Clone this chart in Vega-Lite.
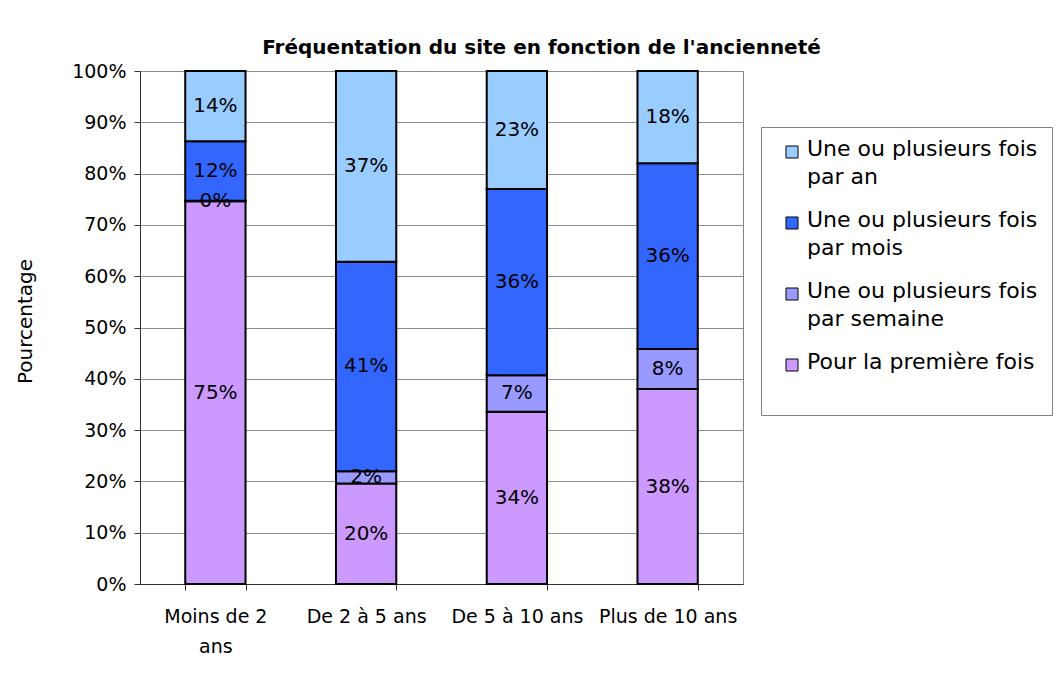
{
  "$schema": "https://vega.github.io/schema/vega-lite/v6.json",
  "width": 603,
  "height": 513,
  "autosize": {"type": "none"},
  "padding": {"left": 140, "top": 71, "right": 317, "bottom": 100},
  "background": "white",
  "config": {
    "font": "DejaVu Sans",
    "view": {"stroke": "#808080", "strokeWidth": 1}
  },
  "title": {
    "text": "Fréquentation du site en fonction de l'ancienneté",
    "fontSize": 20,
    "fontWeight": "bold",
    "color": "black",
    "anchor": "middle",
    "frame": "group",
    "dx": 100,
    "baseline": "alphabetic",
    "offset": -12
  },
  "data": {
    "values": [
      {"anciennete": "Moins de 2 ans", "frequence": "Pour la première fois", "ordre": 1, "part": 0.746},
      {"anciennete": "Moins de 2 ans", "frequence": "Une ou plusieurs fois par semaine", "ordre": 2, "part": 0.001},
      {"anciennete": "Moins de 2 ans", "frequence": "Une ou plusieurs fois par mois", "ordre": 3, "part": 0.116},
      {"anciennete": "Moins de 2 ans", "frequence": "Une ou plusieurs fois par an", "ordre": 4, "part": 0.137},
      {"anciennete": "De 2 à 5 ans", "frequence": "Pour la première fois", "ordre": 1, "part": 0.196},
      {"anciennete": "De 2 à 5 ans", "frequence": "Une ou plusieurs fois par semaine", "ordre": 2, "part": 0.024},
      {"anciennete": "De 2 à 5 ans", "frequence": "Une ou plusieurs fois par mois", "ordre": 3, "part": 0.408},
      {"anciennete": "De 2 à 5 ans", "frequence": "Une ou plusieurs fois par an", "ordre": 4, "part": 0.372},
      {"anciennete": "De 5 à 10 ans", "frequence": "Pour la première fois", "ordre": 1, "part": 0.336},
      {"anciennete": "De 5 à 10 ans", "frequence": "Une ou plusieurs fois par semaine", "ordre": 2, "part": 0.071},
      {"anciennete": "De 5 à 10 ans", "frequence": "Une ou plusieurs fois par mois", "ordre": 3, "part": 0.363},
      {"anciennete": "De 5 à 10 ans", "frequence": "Une ou plusieurs fois par an", "ordre": 4, "part": 0.230},
      {"anciennete": "Plus de 10 ans", "frequence": "Pour la première fois", "ordre": 1, "part": 0.380},
      {"anciennete": "Plus de 10 ans", "frequence": "Une ou plusieurs fois par semaine", "ordre": 2, "part": 0.078},
      {"anciennete": "Plus de 10 ans", "frequence": "Une ou plusieurs fois par mois", "ordre": 3, "part": 0.362},
      {"anciennete": "Plus de 10 ans", "frequence": "Une ou plusieurs fois par an", "ordre": 4, "part": 0.180}
    ]
  },
  "encoding": {
    "x": {
      "field": "anciennete",
      "type": "nominal",
      "sort": ["Moins de 2 ans", "De 2 à 5 ans", "De 5 à 10 ans", "Plus de 10 ans"],
      "scale": {"paddingInner": 0.6, "paddingOuter": 0.3},
      "axis": {
        "title": null,
        "labelAngle": 0,
        "tickBand": "extent",
        "tickSize": 6,
        "tickColor": "#333333",
        "domainColor": "#333333",
        "labelFontSize": 19,
        "labelColor": "black",
        "labelPadding": 17,
        "labelLineHeight": 30,
        "labelBaseline": "top",
        "labelOverlap": false,
        "labelLimit": 0,
        "labelExpr": "datum.label == 'Moins de 2 ans' ? ['Moins de 2', 'ans'] : datum.label"
      }
    }
  },
  "layer": [
    {
      "mark": {"type": "bar", "stroke": "black", "strokeWidth": 2},
      "encoding": {
        "y": {
          "field": "part",
          "type": "quantitative",
          "stack": "zero",
          "scale": {"domain": [0, 1], "nice": false},
          "axis": {
            "title": "Pourcentage",
            "format": ".0%",
            "values": [0, 0.1, 0.2, 0.3, 0.4, 0.5, 0.6, 0.7, 0.8, 0.9, 1],
            "grid": true,
            "gridColor": "#8c8c8c",
            "gridWidth": 1,
            "domainColor": "#333333",
            "tickColor": "#333333",
            "tickSize": 6,
            "labelFontSize": 19,
            "labelColor": "black",
            "labelPadding": 8,
            "titleFontSize": 20,
            "titleFontWeight": "normal",
            "titleColor": "black",
            "titlePadding": 36,
            "titleY": 250
          }
        },
        "color": {
          "field": "frequence",
          "type": "nominal",
          "scale": {
            "domain": ["Une ou plusieurs fois par an", "Une ou plusieurs fois par mois", "Une ou plusieurs fois par semaine", "Pour la première fois"],
            "range": ["#99CCFF", "#3366FF", "#9999FF", "#CC99FF"]
          },
          "legend": {
            "orient": "none",
            "legendX": 621,
            "legendY": 56,
            "title": null,
            "strokeColor": "#808080",
            "fillColor": "white",
            "padding": 14,
            "symbolOffset": 6,
            "symbolType": "square",
            "symbolSize": 144,
            "symbolStrokeColor": "black",
            "symbolStrokeWidth": 1,
            "labelFontSize": 22,
            "labelColor": "black",
            "labelOffset": 4,
            "labelLimit": 0,
            "labelBaseline": "top",
            "rowPadding": 21,
            "labelExpr": "datum.label == 'Une ou plusieurs fois par an' ? ['Une ou plusieurs fois', 'par an'] : datum.label == 'Une ou plusieurs fois par mois' ? ['Une ou plusieurs fois', 'par mois'] : datum.label == 'Une ou plusieurs fois par semaine' ? ['Une ou plusieurs fois', 'par semaine'] : [datum.label, '']",
            "encode": {"labels": {"update": {"dy": {"value": -13}, "lineHeight": {"value": 28}}}}
          }
        },
        "order": {"field": "ordre", "type": "quantitative"}
      }
    },
    {
      "mark": {"type": "text", "fontSize": 20, "color": "black"},
      "encoding": {
        "y": {"field": "part", "type": "quantitative", "stack": "zero", "bandPosition": 0.5},
        "text": {"field": "part", "type": "quantitative", "format": ".0%"},
        "detail": {"field": "frequence", "type": "nominal"},
        "order": {"field": "ordre", "type": "quantitative"}
      }
    }
  ]
}
